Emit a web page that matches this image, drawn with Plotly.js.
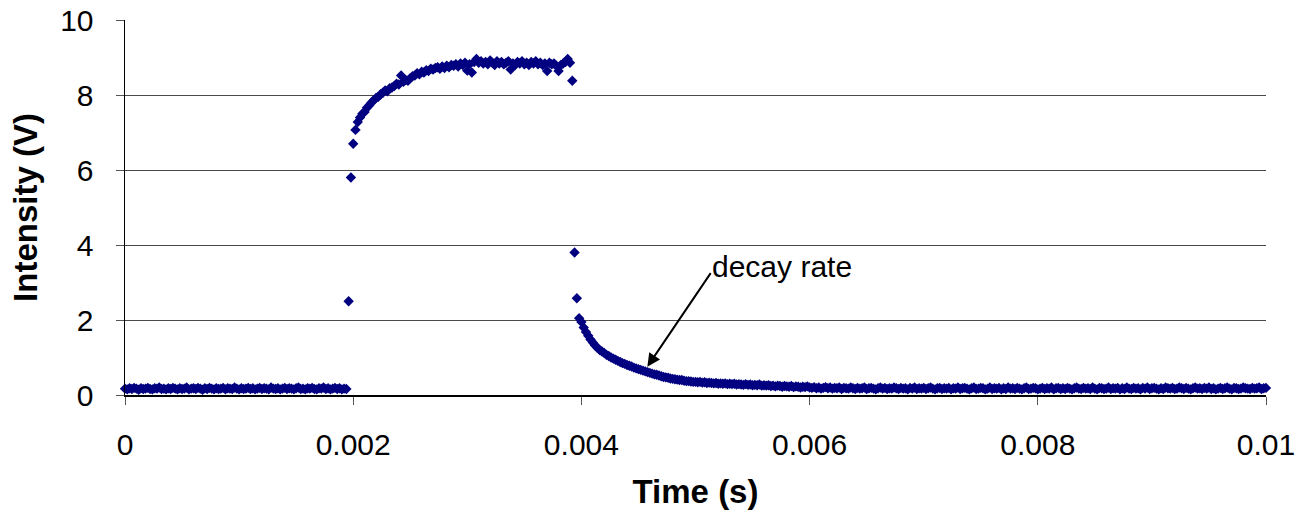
<!DOCTYPE html>
<html>
<head>
<meta charset="utf-8">
<script src="https://cdn.plot.ly/plotly-3.0.1.min.js"></script>
<style>html,body{margin:0;padding:0;background:#fff;}#chart{width:1303px;height:512px;}</style>
</head>
<body>
<div id="chart"></div>
<script>
// Sample spacing of the recorded trace (s)
const sampleStep = 0.00002;

// Intensity readings (V), in order of time
const baselineBefore = [
  0.17,0.15,0.18,0.16,0.19,0.17,0.14,0.18,0.16,0.17,
  0.19,0.16,0.15,0.18,0.17,0.20,0.16,0.17,0.15,0.18,
  0.16,0.19,0.17,0.15,0.18,0.16,0.17,0.20,0.15,0.17,
  0.18,0.16,0.19,0.17,0.14,0.18,0.16,0.19,0.17,0.15,
  0.18,0.16,0.17,0.19,0.15,0.18,0.17,0.16,0.20,0.17,
  0.15,0.18,0.16,0.17,0.19,0.16,0.18,0.15,0.17,0.19,
  0.16,0.18,0.17,0.15,0.20,0.17,0.16,0.18,0.15,0.17,
  0.19,0.16,0.18,0.17,0.15,0.18,0.20,0.16,0.17,0.15,
  0.18,0.17,0.19,0.16,0.15,0.18,0.17,0.20,0.16,0.18,
  0.15,0.17,0.19,0.16,0.18,0.15,0.17,0.16
];
const riseValues = [
  2.50,5.80,6.70,7.07,7.28,7.40,7.50,7.55,7.66,7.72,
  7.80,7.86,7.92,7.95,8.02,8.06,8.12,8.10,8.18,8.20,
  8.24,8.30,8.28,8.52,8.35,8.40,8.38,8.45,8.50,8.52,
  8.58,8.55,8.62,8.60,8.66,8.64,8.70,8.68,8.72,8.74,
  8.70,8.76,8.72,8.78,8.74,8.80
];
const plateauValues = [
  8.78,8.82,8.76,8.84,8.80,8.86,8.65,8.82,8.60,8.88,
  8.96,8.86,8.90,8.84,8.88,8.82,8.92,8.86,8.80,8.90,
  8.84,8.88,8.82,8.86,8.90,8.68,8.84,8.80,8.88,8.84,
  8.90,8.82,8.86,8.80,8.88,8.84,8.90,8.82,8.86,8.80,
  8.84,8.64,8.86,8.82,8.84,8.78,8.64,8.80,8.84,8.88,
  8.96,8.86,8.38
];
const fallValues = [
  3.80,2.58,2.05,1.95,1.80,1.68,1.58,1.48,1.40,1.32,
  1.26,1.20,1.16,1.12,1.07,1.04,1.00,0.97,0.94,0.91,
  0.88,0.85,0.83,0.80,0.78,0.76,0.73,0.71,0.69,0.67,
  0.65,0.63,0.61,0.59,0.57,0.55,0.54,0.52,0.50,0.48,
  0.47,0.46,0.44,0.43
];
const tailValues = [
  0.42,0.41,0.40,0.40,0.38,0.37,0.37,0.36,0.35,0.35,
  0.34,0.35,0.33,0.34,0.32,0.33,0.32,0.31,0.32,0.30,
  0.31,0.30,0.31,0.29,0.30,0.29,0.30,0.28,0.29,0.28,
  0.27,0.29,0.27,0.28,0.26,0.27,0.26,0.28,0.25,0.26,
  0.25,0.26,0.24,0.25,0.23,0.25,0.24,0.22,0.24,0.23,
  0.22,0.24,0.21,0.23,0.22,0.20,0.22,0.21,0.23,0.20
];
const baselineAfter = [
  0.19,0.21,0.18,0.20,0.17,0.19,0.21,0.18,0.20,0.17,
  0.19,0.18,0.20,0.16,0.19,0.18,0.17,0.20,0.18,0.16,
  0.19,0.17,0.18,0.20,0.16,0.18,0.19,0.17,0.15,0.18,
  0.20,0.17,0.19,0.16,0.18,0.17,0.20,0.18,0.16,0.19,
  0.17,0.18,0.15,0.19,0.17,0.20,0.16,0.18,0.17,0.19,
  0.16,0.18,0.20,0.17,0.15,0.18,0.19,0.16,0.18,0.17,
  0.19,0.15,0.18,0.17,0.20,0.16,0.18,0.19,0.17,0.15,
  0.18,0.20,0.16,0.17,0.19,0.18,0.15,0.17,0.20,0.16,
  0.18,0.17,0.19,0.15,0.18,0.16,0.20,0.17,0.18,0.16,
  0.19,0.17,0.15,0.18,0.20,0.16,0.17,0.19,0.18,0.15,
  0.17,0.19,0.16,0.18,0.17,0.20,0.15,0.18,0.19,0.16,
  0.18,0.16,0.19,0.17,0.15,0.18,0.20,0.17,0.16,0.19,
  0.17,0.18,0.16,0.20,0.17,0.15,0.19,0.18,0.16,0.17,
  0.20,0.16,0.18,0.17,0.19,0.15,0.18,0.16,0.20,0.17,
  0.16,0.19,0.17,0.18,0.15,0.19,0.17,0.20,0.16,0.18,
  0.19,0.17,0.15,0.18,0.16,0.20,0.18,0.17,0.19,0.16,
  0.17,0.20,0.18,0.16,0.19,0.17,0.15,0.18,0.20,0.17,
  0.18,0.16,0.19,0.17,0.20,0.16,0.18,0.15,0.17,0.19,
  0.16,0.18,0.20,0.17,0.15,0.19,0.18,0.16,0.17,0.20,
  0.18,0.17,0.16,0.19,0.17,0.18,0.20,0.16,0.18,0.19
];

// Axis ticks
const xTickValues = [0, 0.002, 0.004, 0.006, 0.008, 0.01];
const xTickLabels = ["0", "0.002", "0.004", "0.006", "0.008", "0.01"];
const yTickValues = [0, 2, 4, 6, 8, 10];
const yTickLabels = ["0", "2", "4", "6", "8", "10"];

const intensity = baselineBefore.concat(riseValues, plateauValues, fallValues, tailValues, baselineAfter);
const time = intensity.map((_, i) => i * sampleStep);

const FONT = 'Liberation Sans, Arial, sans-serif';

const trace = {
  type: 'scatter',
  mode: 'markers',
  x: time,
  y: intensity,
  marker: { symbol: 'diamond', size: 8, color: '#000080', line: { width: 0 } },
  hoverinfo: 'x+y',
  cliponaxis: false
};

const layout = {
  width: 1303,
  height: 512,
  margin: { l: 125, r: 37, t: 20, b: 117 },
  paper_bgcolor: '#ffffff',
  plot_bgcolor: '#ffffff',
  showlegend: false,
  font: { family: FONT, color: '#000000', size: 30 },
  xaxis: {
    range: [0, 0.01],
    tickmode: 'array',
    tickvals: xTickValues,
    ticktext: xTickLabels,
    showgrid: false,
    zeroline: false,
    showline: true,
    linecolor: '#000000',
    linewidth: 1.5,
    ticks: 'outside',
    ticklen: 8,
    tickcolor: '#555555',
    tickfont: { family: FONT, size: 30, color: '#000000' },
    ticklabelstandoff: 14,
    title: { text: 'Time (s)', font: { family: FONT, size: 33, color: '#000000', weight: 'bold' }, standoff: 20 },
    automargin: false
  },
  yaxis: {
    range: [0, 10],
    tickmode: 'array',
    tickvals: yTickValues,
    ticktext: yTickLabels,
    showgrid: true,
    gridcolor: '#4a4a4a',
    gridwidth: 1,
    zeroline: false,
    showline: true,
    linecolor: '#000000',
    linewidth: 1.5,
    ticks: 'outside',
    ticklen: 8,
    tickcolor: '#555555',
    tickfont: { family: FONT, size: 30, color: '#000000' },
    ticklabelstandoff: 16,
    title: { text: 'Intensity (V)', font: { family: FONT, size: 33, color: '#000000', weight: 'bold' }, standoff: 12 },
    automargin: false
  },
  annotations: [
    {
      x: 0.004578, y: 0.755, xref: 'x', yref: 'y',
      ax: 0.005142, ay: 3.29, axref: 'x', ayref: 'y',
      text: '', showarrow: true,
      arrowhead: 2, arrowsize: 1.3, arrowwidth: 2, arrowcolor: '#000000'
    },
    {
      x: 0.005127, y: 3.44, xref: 'x', yref: 'y',
      xanchor: 'left', yanchor: 'middle',
      text: 'decay rate', showarrow: false,
      font: { family: FONT, size: 30, color: '#000000' }
    }
  ]
};

Plotly.newPlot('chart', [trace], layout, { displayModeBar: false, staticPlot: true });
</script>
</body>
</html>
